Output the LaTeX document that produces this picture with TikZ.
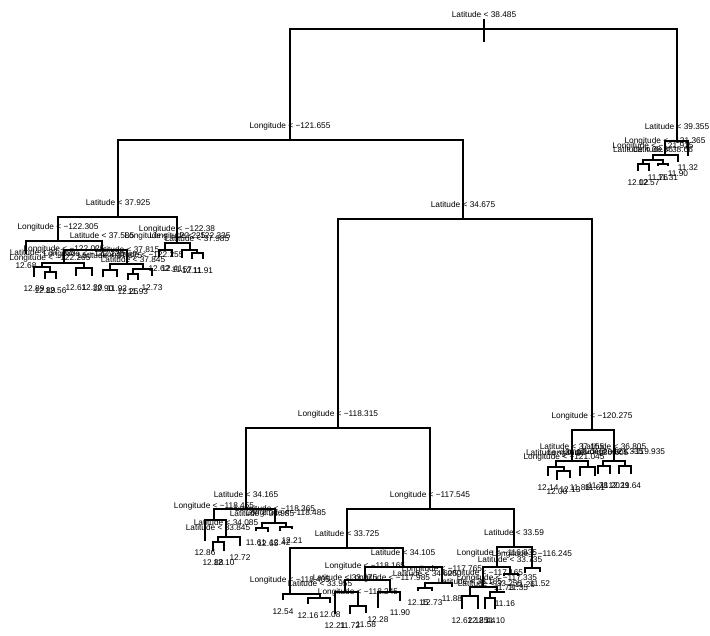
\documentclass[tikz,border=0pt]{standalone}
\usepackage{fontspec}
\setmainfont{Liberation Sans}
\usepackage{tikz}

\tikzset{
  branch/.style={line width=1.9pt},
  splitlab/.style={anchor=base, yshift=12pt, inner sep=0pt, font=\fontsize{8.3}{10}\selectfont},
  leaflab/.style={anchor=base, yshift=-14pt, inner sep=0pt, font=\fontsize{8.3}{10}\selectfont}
}
% 分裂节点与叶节点
\newcommand{\splitat}[4]{\coordinate (#1) at (#2,#3); \node[splitlab] (#1-t) at (#1) {#4};}
\newcommand{\leafat}[4]{\coordinate (#1) at (#2,#3); \node[leaflab] (#1-t) at (#1) {#4};}

\begin{document}
\begin{tikzpicture}[x=1pt, y=-1pt]
        \useasboundingbox (0,0) rectangle (710,635);
        % 根节点
        \splitat{r}{484}{29}{Latitude < 38.485}
        \coordinate (rtop) at (484,19);
        \coordinate (rbot) at (484,42);
        \draw[branch] (rtop) -- (rbot);
        \splitat{a}{290}{140}{Longitude < −121.655}
        \splitat{b}{677}{141}{Latitude < 39.355}
        % 右上小子树
        \splitat{bl}{665}{155}{Longitude < −121.365}
        \leafat{b2}{688}{156}{11.32}
        \splitat{bll}{653}{160}{Longitude < −121.915}
        \leafat{bl2}{678}{162}{11.90}
        \splitat{blll}{643}{164}{Latitude < 38.86}
        \splitat{bllr}{663}{164}{Latitude < 38.66}
        \leafat{blll1}{638}{171}{12.02}
        \leafat{blll2}{649}{171}{12.57}
        \leafat{bllr1}{658}{166}{11.76}
        \leafat{bllr2}{668}{166}{11.31}
        % 左侧子树
        \splitat{c}{118}{217}{Latitude < 37.925}
        \splitat{d}{463}{219}{Latitude < 34.675}
        \splitat{cl}{58}{241}{Longitude < −122.305}
        \splitat{cr}{177}{243}{Longitude < −122.38}
        \leafat{cl1}{26}{254}{12.68}
        \splitat{clr}{102}{250}{Latitude < 37.585}
        \splitat{clrl}{64}{263}{Longitude < −122.025}
        \splitat{clrr}{127}{264}{Latitude < 37.815}
        \splitat{clrll}{42}{267}{Latitude < 37.765}
        \leafat{clrll1}{34}{277}{12.89}
        \splitat{clrllr}{50}{272}{Longitude < −122.265}
        \leafat{clrllr1}{45}{279}{12.89}
        \leafat{clrllr2}{56}{279}{12.56}
        \splitat{clrlr}{84}{268}{Longitude < −122.135}
        \leafat{clrlr1}{76}{276}{12.61}
        \leafat{clrlr2}{92}{276}{12.30}
        \splitat{clrrl}{110}{270}{Latitude < 37.875}
        \leafat{clrrl1}{103}{277}{12.90}
        \leafat{clrrl2}{117}{277}{11.92}
        \splitat{clrrr}{143}{269}{Longitude < −122.255}
        \splitat{clrrrl}{133}{274}{Latitude < 37.845}
        \leafat{clrrrl1}{128}{280}{12.25}
        \leafat{clrrrl2}{138}{280}{11.93}
        \leafat{clrrr2}{152}{276}{12.73}
        \splitat{crl}{165}{250}{Longitude < −122.225}
        \leafat{crl1}{159}{257}{12.62}
        \leafat{crl2}{172}{257}{12.41}
        \splitat{crr}{190}{250}{Longitude < −122.335}
        \leafat{crr1}{182}{258}{11.57}
        \splitat{crrr}{197}{253}{Latitude < 37.985}
        \leafat{crrr1}{192}{259}{12.11}
        \leafat{crrr2}{203}{259}{11.91}
        % 中部子树
        \splitat{e}{338}{428}{Longitude < −118.315}
        \splitat{g}{592}{430}{Longitude < −120.275}
        \splitat{gl}{572}{461}{Latitude < 37.155}
        \splitat{gr}{614}{461}{Latitude < 36.805}
        \splitat{gll}{556}{467}{Latitude < 36.02}
        \leafat{gll1}{548}{476}{12.14}
        \splitat{gllr}{564}{471}{Longitude < −121.045}
        \leafat{gllr1}{557}{480}{12.00}
        \leafat{gllr2}{570}{478}{12.13}
        \splitat{glr}{588}{467}{Longitude < −120.605}
        \leafat{glr1}{580}{476}{11.86}
        \leafat{glr2}{595}{476}{11.61}
        \splitat{grl}{603}{466}{Longitude < −121.335}
        \leafat{grl1}{598}{474}{11.78}
        \leafat{grl2}{610}{474}{11.20}
        \splitat{grr}{625}{466}{Longitude < −119.935}
        \leafat{grr1}{619}{474}{12.29}
        \leafat{grr2}{631}{474}{11.64}
        % 下部子树
        \splitat{f}{246}{509}{Latitude < 34.165}
        \splitat{h}{430}{509}{Longitude < −117.545}
        \splitat{fl}{214}{520}{Longitude < −118.455}
        \leafat{fl1}{205}{541}{12.86}
        \splitat{flr}{226}{537}{Latitude < 34.085}
        \splitat{flrl}{218}{542}{Latitude < 33.845}
        \leafat{flrl1}{213}{551}{12.88}
        \leafat{flrl2}{224}{551}{12.10}
        \leafat{flr2}{240}{546}{12.72}
        \splitat{fr}{275}{523}{Longitude < −118.365}
        \splitat{frl}{262}{528}{Latitude < 33.985}
        \leafat{frl1}{256}{531}{11.61}
        \leafat{frl2}{268}{532}{12.65}
        \splitat{frr}{286}{527}{Longitude < −118.485}
        \leafat{frr1}{280}{531}{12.42}
        \leafat{frr2}{292}{529}{12.21}
        \splitat{hl}{347}{548}{Latitude < 33.725}
        \splitat{hr}{514}{547}{Latitude < 33.59}
        \splitat{hll}{290}{594}{Longitude < −118.405}
        \leafat{hll1}{283}{600}{12.54}
        \splitat{hllr}{320}{598}{Latitude < 33.955}
        \leafat{hllr1}{308}{604}{12.16}
        \leafat{hllr2}{330}{603}{12.08}
        \splitat{hlr}{403}{567}{Latitude < 34.105}
        \splitat{hlrl}{365}{580}{Longitude < −118.165}
        \splitat{hlrll}{345}{592}{Latitude < 33.875}
        \leafat{hlrll1}{335}{614}{12.21}
        \splitat{hlrllr}{358}{606}{Longitude < −118.245}
        \leafat{hlrllr1}{350}{614}{11.72}
        \leafat{hlrllr2}{366}{613}{11.58}
        \splitat{hlrlr}{390}{592}{Longitude < −117.985}
        \leafat{hlrlr1}{378}{608}{12.28}
        \leafat{hlrlr2}{400}{601}{11.90}
        \splitat{hlrr}{442}{583}{Longitude < −117.765}
        \splitat{hlrrl}{425}{588}{Latitude < 34.625}
        \leafat{hlrrl1}{418}{591}{12.15}
        \leafat{hlrrl2}{432}{591}{12.73}
        \leafat{hlrr2}{452}{587}{11.88}
        \splitat{hrl}{497}{567}{Longitude < −116.835}
        \splitat{hrll}{483}{587}{Longitude < −117.165}
        \splitat{hrlll}{470}{596}{Latitude < 33.185}
        \leafat{hrlll1}{462}{609}{12.62}
        \leafat{hrlll2}{478}{609}{12.85}
        \splitat{hrllr}{497}{592}{Longitude < −117.335}
        \splitat{hrllrl}{490}{598}{Latitude < 33.255}
        \leafat{hrllrl1}{485}{609}{12.44}
        \leafat{hrllrl2}{495}{609}{11.10}
        \leafat{hrllr2}{505}{592}{11.16}
        \splitat{hrlr}{510}{574}{Latitude < 33.735}
        \leafat{hrlr1}{504}{576}{11.73}
        \leafat{hrlr2}{518}{576}{11.35}
        \splitat{hrr}{532}{568}{Longitude < −116.245}
        \leafat{hrr1}{525}{573}{11.26}
        \leafat{hrr2}{540}{572}{11.52}
        % 绘制分支
        \foreach \p/\c in {r/a, r/b, b/bl, b/b2, bl/bll, bl/bl2, bll/blll, bll/bllr,
            blll/blll1, blll/blll2, bllr/bllr1, bllr/bllr2,
            a/c, a/d, c/cl, c/cr, cl/cl1, cl/clr, clr/clrl, clr/clrr,
            clrl/clrll, clrl/clrlr, clrll/clrll1, clrll/clrllr, clrllr/clrllr1, clrllr/clrllr2,
            clrlr/clrlr1, clrlr/clrlr2, clrr/clrrl, clrr/clrrr, clrrl/clrrl1, clrrl/clrrl2,
            clrrr/clrrrl, clrrr/clrrr2, clrrrl/clrrrl1, clrrrl/clrrrl2,
            cr/crl, cr/crr, crl/crl1, crl/crl2, crr/crr1, crr/crrr, crrr/crrr1, crrr/crrr2,
            d/e, d/g, g/gl, g/gr, gl/gll, gl/glr, gll/gll1, gll/gllr, gllr/gllr1, gllr/gllr2,
            glr/glr1, glr/glr2, gr/grl, gr/grr, grl/grl1, grl/grl2, grr/grr1, grr/grr2,
            e/f, e/h, f/fl, f/fr, fl/fl1, fl/flr, flr/flrl, flr/flr2, flrl/flrl1, flrl/flrl2,
            fr/frl, fr/frr, frl/frl1, frl/frl2, frr/frr1, frr/frr2,
            h/hl, h/hr, hl/hll, hl/hlr, hll/hll1, hll/hllr, hllr/hllr1, hllr/hllr2,
            hlr/hlrl, hlr/hlrr, hlrl/hlrll, hlrl/hlrlr, hlrll/hlrll1, hlrll/hlrllr,
            hlrllr/hlrllr1, hlrllr/hlrllr2, hlrlr/hlrlr1, hlrlr/hlrlr2,
            hlrr/hlrrl, hlrr/hlrr2, hlrrl/hlrrl1, hlrrl/hlrrl2,
            hr/hrl, hr/hrr, hrl/hrll, hrl/hrlr, hrll/hrlll, hrll/hrllr,
            hrlll/hrlll1, hrlll/hrlll2, hrllr/hrllrl, hrllr/hrllr2, hrllrl/hrllrl1, hrllrl/hrllrl2,
            hrlr/hrlr1, hrlr/hrlr2, hrr/hrr1, hrr/hrr2}
            \draw[branch] (\p) -| (\c);
    \end{tikzpicture}
\end{document}
